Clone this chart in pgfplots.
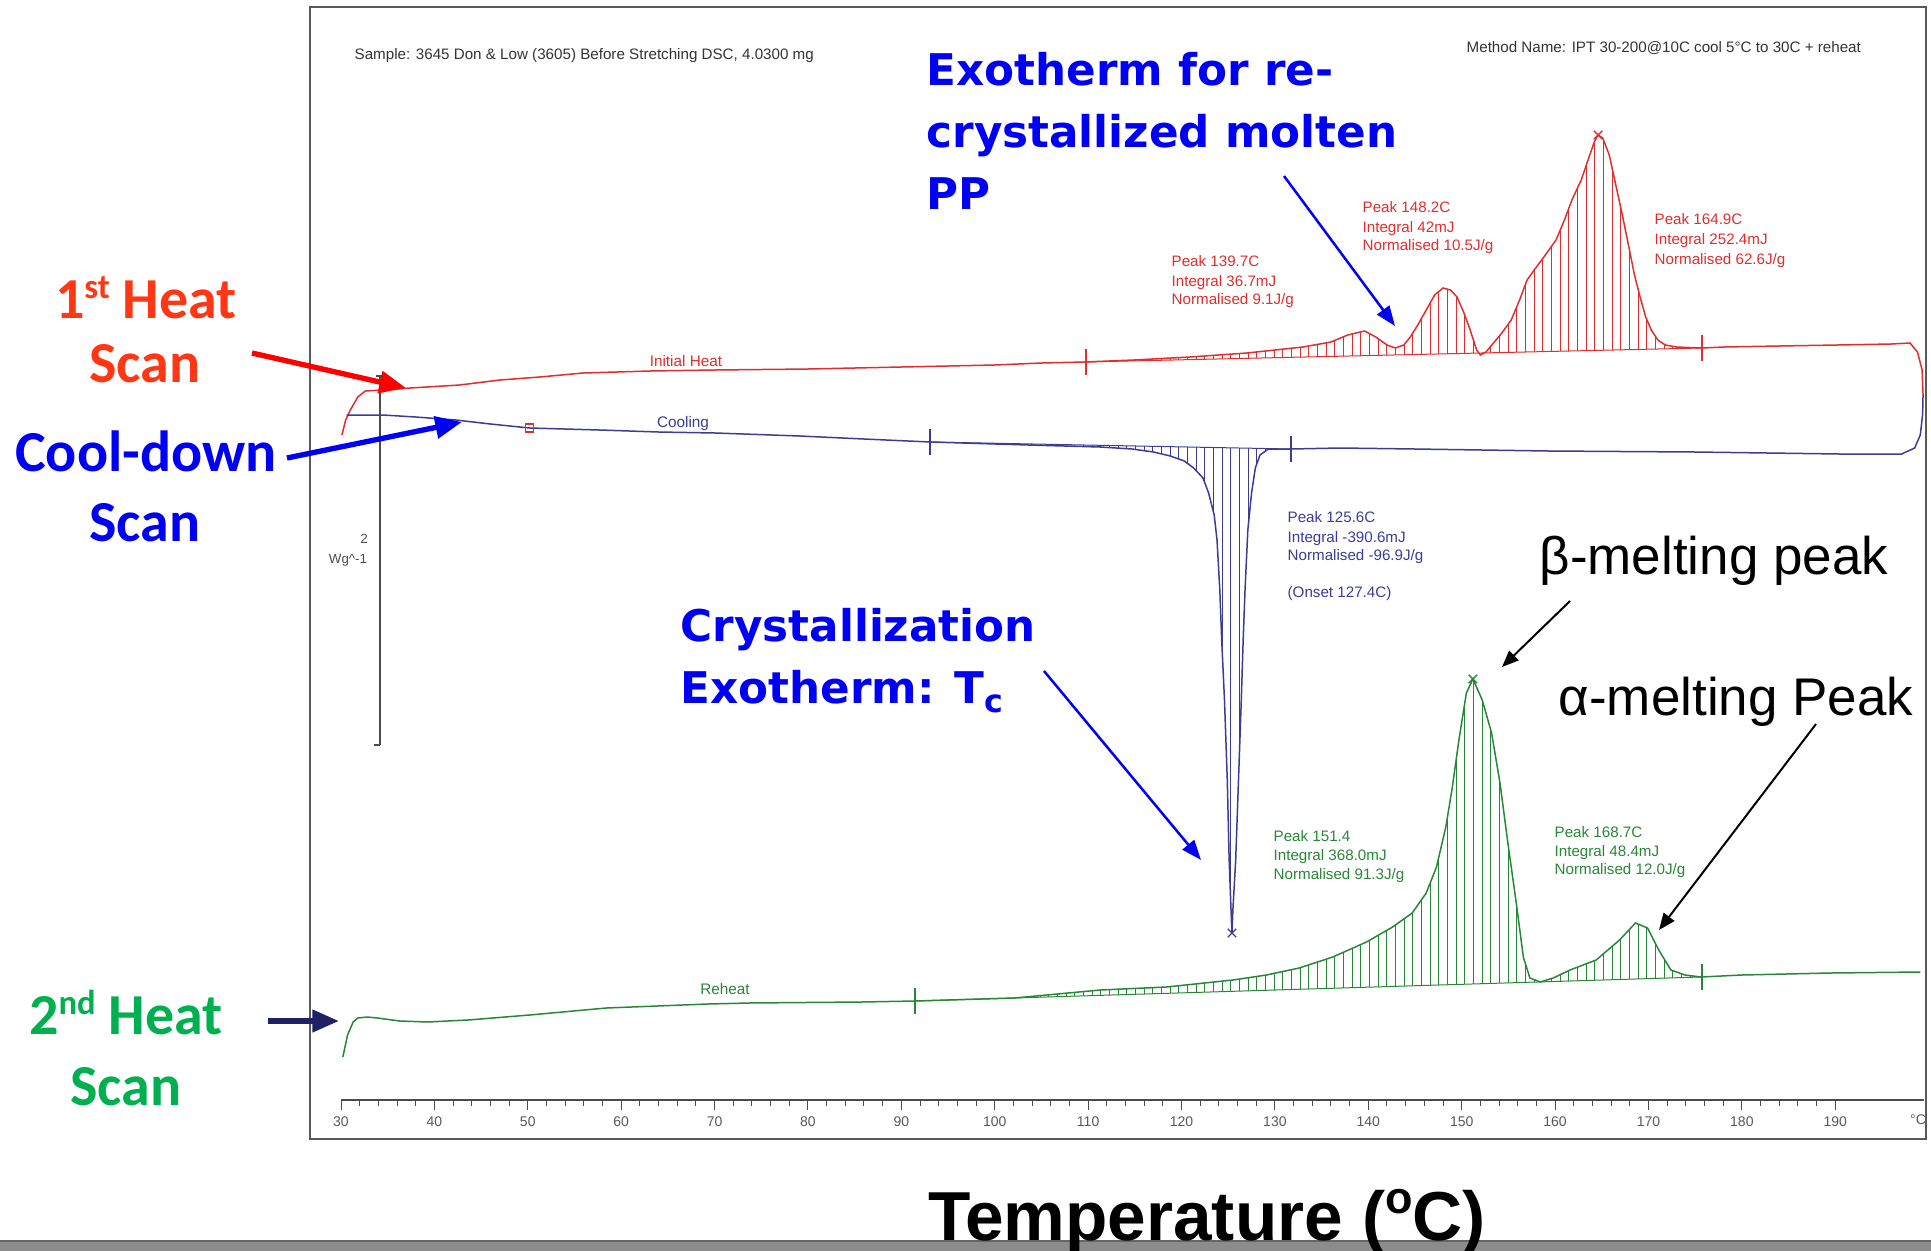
\documentclass[border=0pt]{standalone}
\usepackage{pgfplots}
\pgfplotsset{compat=1.18}
\usetikzlibrary{patterns.meta,arrows.meta}
\usepackage{fontspec}
\setmainfont{Liberation Sans}
\newfontfamily\calfont{Carlito}
\newfontfamily\vfont{DejaVu Sans}

\definecolor{dscred}{RGB}{225,45,45}
\definecolor{dscblue}{RGB}{60,60,150}
\definecolor{dscgreen}{RGB}{40,135,55}
\definecolor{annred}{RGB}{255,55,20}
\definecolor{arrred}{RGB}{255,0,0}
\definecolor{annblue}{RGB}{0,0,245}
\definecolor{anngreen}{RGB}{0,176,80}
\definecolor{annnavy}{RGB}{32,32,100}

\tikzset{
  dsc/.style={font=\fontsize{4.55}{5}\selectfont, inner sep=0, anchor=base west},
  callout/.style={font=\calfont\bfseries\fontsize{17.4}{18}\selectfont, inner sep=0, anchor=base},
  vlabel/.style={font=\vfont\bfseries\fontsize{13.1}{14}\selectfont, inner sep=0, anchor=base west, text=annblue},
  plabel/.style={font=\fontsize{15.9}{16}\selectfont, inner sep=0, anchor=base west},
  bigarrow/.style={line width=1.6pt, -{Triangle[length=8pt,width=6.5pt]}},
  thinarrow/.style={line width=0.75pt, -{Triangle[length=6pt,width=4.5pt]}},
  hatch/.style={draw=none, pattern={Lines[angle=90,distance=2.6pt,line width=0.3pt]}, pattern color=#1},
}

\begin{document}
\begin{tikzpicture}
\useasboundingbox (0,0) rectangle (579.3pt,-375.3pt);

% instrument frame and scale bar (1 unit = one pixel, y downwards)
\begin{scope}[x=0.3pt,y=-0.3pt]
  \draw[black!65, line width=0.7pt] (310,7) rectangle (1926,1139);
  \draw[black!70, line width=0.45pt] (380,376) -- (380,745);
  \draw[black!70, line width=0.45pt] (376,376) -- (384,376);
  \draw[black!70, line width=0.45pt] (374,745) -- (380,745);
  \node[font=\fontsize{4}{5}\selectfont, text=black!70, inner sep=0] at (364,539) {2};
  \node[font=\fontsize{4}{5}\selectfont, text=black!70, inner sep=0] at (348,560) {Wg\textasciicircum-1};
\end{scope}

\begin{axis}[
  at={(102.3pt,-330pt)}, anchor=south west,
  scale only axis, width=474.9pt, height=327.9pt,
  xmin=30, xmax=199.5, ymin=0, ymax=1093,
  axis x line=bottom, axis y line=left,
  x axis line style={-, draw=black!70, line width=0.6pt},
  y axis line style={draw=none}, ytick=\empty,
  xtick={30,40,...,190}, minor x tick num=4,
  tick align=outside,
  major tick length=3pt, minor tick length=1.8pt,
  every tick/.style={black!70, line width=0.3pt},
  xticklabel style={font=\fontsize{4.2}{4.5}\selectfont, text=black!65, anchor=north, yshift=1.4pt},
  /pgf/number format/assume math mode=true,
  clip=false,
]
% hatched integration areas: curve segment between the limits, closed along the baseline
\addplot[hatch=dscred] coordinates {
 (109.6,738) (114.9,740) (120.9,743) (127.0,747)
 (133.0,753) (136,758) (137.8,765) (139.6,769) (140.8,763) (142.0,755)
 (142.9,752) (143.8,755) (144.5,763) (145.3,775) (146.2,790) (147.1,805)
 (148.0,812) (148.8,810) (149.5,803) (150.2,788) (150.8,773) (151.6,750)
 (152.0,745) (152.6,748) (153.4,757) (154.3,767) (155.3,780) (156.2,800)
 (157.0,820) (158.0,833) (158.8,843) (160.1,860) (161.0,880) (161.8,900)
 (162.8,920) (163.6,942) (164.2,958) (164.6,965) (165.1,962) (165.8,945)
 (166.5,915) (167.2,885) (167.9,853) (168.5,825) (169.1,803) (169.7,783)
 (170.3,770) (171.0,760) (171.8,755) (173,753) (175.7,752)
} -- cycle;
\addplot[hatch=dscblue] coordinates {
 (93.1,658) (103.6,655)
 (111.3,653) (114.7,651) (117,648) (118.8,644) (120.3,639) (121.3,632)
 (122.3,622) (122.9,607) (123.5,585) (123.8,560) (124.1,510) (124.3,460)
 (124.6,400) (124.9,320) (125.1,240) (125.3,190) (125.4,167) (125.5,190)
 (125.8,240) (126.1,320) (126.4,400) (126.6,460) (126.8,510) (127.1,570)
 (127.5,607) (127.9,632) (128.4,645) (129.3,651) (131.7,651)
} -- cycle;
\addplot[hatch=dscgreen] coordinates {
 (91.5,99) (102.1,102) (111.3,110) (118.4,113) (125.5,120) (129.1,125)
 (132.6,132) (136.2,143) (139.8,158) (142.6,173) (144.7,187) (146.2,207)
 (147.3,233) (148.3,273) (149.0,313) (149.7,360) (150.5,407) (151.2,421)
 (152.2,400) (153.2,367) (154.1,317) (154.9,260) (155.9,193) (156.6,143)
 (157.3,122) (158.4,118) (159.8,122) (161.6,130) (164.4,140) (166.9,160)
 (168.6,177) (169.9,172) (171.1,150) (172.4,130) (173.9,125) (175.6,123)
} -- cycle;

% baselines
\addplot[dscred, line width=0.3pt] coordinates {(109.6,738) (175.7,752)};
\addplot[dscblue, line width=0.3pt] coordinates {(93.1,658) (131.7,651)};
\addplot[dscgreen, line width=0.3pt] coordinates {(91.5,99) (175.6,123)};

% initial heat
\addplot[dscred, line width=0.45pt] coordinates {
 (30.1,665) (30.5,680) (31.0,690) (31.8,703) (32.6,709) (34.4,710) (37.4,712)
 (42.7,715) (47.0,720) (51.3,723) (55.9,727) (63.1,729) (70,730) (80,731)
 (90,733) (100,735) (105,737) (109.6,738) (114.9,740) (120.9,743) (127.0,747)
 (133.0,753) (136,758) (137.8,765) (139.6,769) (140.8,763) (142.0,755)
 (142.9,752) (143.8,755) (144.5,763) (145.3,775) (146.2,790) (147.1,805)
 (148.0,812) (148.8,810) (149.5,803) (150.2,788) (150.8,773) (151.6,750)
 (152.0,745) (152.6,748) (153.4,757) (154.3,767) (155.3,780) (156.2,800)
 (157.0,820) (158.0,833) (158.8,843) (160.1,860) (161.0,880) (161.8,900)
 (162.8,920) (163.6,942) (164.2,958) (164.6,965) (165.1,962) (165.8,945)
 (166.5,915) (167.2,885) (167.9,853) (168.5,825) (169.1,803) (169.7,783)
 (170.3,770) (171.0,760) (171.8,755) (173,753) (175.7,752) (178.1,753)
 (184,754) (190.2,755) (196,756) (198.0,757) (198.8,748) (199.3,730) (199.4,705)
};

% cooling
\addplot[dscblue, line width=0.45pt] coordinates {
 (30.6,685) (32,685) (34.5,685) (38,683) (42.3,680) (46,676) (50.2,672)
 (57.7,670) (64,668) (70.1,667) (79.1,664) (86,661) (93.1,658) (103.6,655)
 (111.3,653) (114.7,651) (117,648) (118.8,644) (120.3,639) (121.3,632)
 (122.3,622) (122.9,607) (123.5,585) (123.8,560) (124.1,510) (124.3,460)
 (124.6,400) (124.9,320) (125.1,240) (125.3,190) (125.4,167) (125.5,190)
 (125.8,240) (126.1,320) (126.4,400) (126.6,460) (126.8,510) (127.1,570)
 (127.5,607) (127.9,632) (128.4,645) (129.3,651) (131.7,651) (137,652)
 (145,651) (159.3,649) (175,648) (190.5,646) (197.1,646) (198.5,652)
 (199.1,665) (199.35,685) (199.4,705)
};

% reheat
\addplot[dscgreen, line width=0.45pt] coordinates {
 (30.2,43) (30.7,65) (31.3,78) (31.8,82) (32.8,83) (33.9,82) (36.3,79)
 (39.3,78) (43.6,80) (50.2,85) (58.4,92) (69.3,96) (73.7,97) (85.7,98)
 (91.5,99) (102.1,102) (111.3,110) (118.4,113) (125.5,120) (129.1,125)
 (132.6,132) (136.2,143) (139.8,158) (142.6,173) (144.7,187) (146.2,207)
 (147.3,233) (148.3,273) (149.0,313) (149.7,360) (150.5,407) (151.2,421)
 (152.2,400) (153.2,367) (154.1,317) (154.9,260) (155.9,193) (156.6,143)
 (157.3,122) (158.4,118) (159.8,122) (161.6,130) (164.4,140) (166.9,160)
 (168.6,177) (169.9,172) (171.1,150) (172.4,130) (173.9,125) (175.6,123)
 (180,125) (189.5,127) (199.1,128)
};

% integration limits and peak marks
\addplot[only marks, mark=|, mark size=4pt, dscred, line width=0.6pt] coordinates {(109.8,738) (175.7,752)};
\addplot[only marks, mark=|, mark size=4pt, dscblue, line width=0.6pt] coordinates {(93.1,658) (131.7,651)};
\addplot[only marks, mark=|, mark size=4pt, dscgreen, line width=0.6pt] coordinates {(91.5,99) (175.7,123)};
\addplot[only marks, mark=x, mark size=1.8pt, dscred] coordinates {(164.6,965)};
\addplot[only marks, mark=x, mark size=1.8pt, dscblue] coordinates {(125.4,167)};
\addplot[only marks, mark=x, mark size=1.8pt, dscgreen] coordinates {(151.2,421)};
\addplot[only marks, mark=square, mark size=1.2pt, dscred] coordinates {(50.2,672)};
\end{axis}

\begin{scope}[x=0.3pt,y=-0.3pt]
  \node[font=\fontsize{4.2}{4.5}\selectfont, text=black!65, inner sep=0] at (1918,1120) {°C};

  % instrument texts
  \node[dsc, text=black!80] at (354,59) {Sample: 3645 Don \& Low (3605) Before Stretching DSC, 4.0300 mg};
  \node[dsc, text=black!80] at (1466,52) {Method Name: IPT 30-200@10C cool 5°C to 30C + reheat};
  \node[font=\fontsize{4.6}{5}\selectfont, text=dscred, inner sep=0] at (686,361) {Initial Heat};
  \node[font=\fontsize{4.6}{5}\selectfont, text=dscblue, inner sep=0] at (683,424) {Cooling};
  \node[font=\fontsize{4.6}{5}\selectfont, text=dscgreen, inner sep=0] at (725,989) {Reheat};

  \node[dsc, text=dscred] at (1171,266) {Peak 139.7C};
  \node[dsc, text=dscred] at (1171,286) {Integral 36.7mJ};
  \node[dsc, text=dscred] at (1171,304) {Normalised 9.1J/g};
  \node[dsc, text=dscred] at (1362,212) {Peak 148.2C};
  \node[dsc, text=dscred] at (1362,232) {Integral 42mJ};
  \node[dsc, text=dscred] at (1362,250) {Normalised 10.5J/g};
  \node[dsc, text=dscred] at (1654,224) {Peak 164.9C};
  \node[dsc, text=dscred] at (1654,244) {Integral 252.4mJ};
  \node[dsc, text=dscred] at (1654,264) {Normalised 62.6J/g};

  \node[dsc, text=dscblue] at (1287,522) {Peak 125.6C};
  \node[dsc, text=dscblue] at (1287,542) {Integral -390.6mJ};
  \node[dsc, text=dscblue] at (1287,560) {Normalised -96.9J/g};
  \node[dsc, text=dscblue] at (1287,597) {(Onset 127.4C)};

  \node[dsc, text=dscgreen] at (1273,841) {Peak 151.4};
  \node[dsc, text=dscgreen] at (1273,860) {Integral 368.0mJ};
  \node[dsc, text=dscgreen] at (1273,879) {Normalised 91.3J/g};
  \node[dsc, text=dscgreen] at (1554,837) {Peak 168.7C};
  \node[dsc, text=dscgreen] at (1554,856) {Integral 48.4mJ};
  \node[dsc, text=dscgreen] at (1554,874) {Normalised 12.0J/g};

  % scan call-outs
  \node[callout, text=annred] at (146,318) {1\raisebox{0.33em}{\fontsize{10.4}{10}\selectfont st} Heat};
  \node[callout, text=annred] at (145,382) {Scan};
  \draw[bigarrow, arrred] (252,353) -- (406,388);

  \node[callout, text=annblue] at (146,471) {Cool-down};
  \node[callout, text=annblue] at (145,541) {Scan};
  \draw[bigarrow, annblue] (287,458) -- (462,422);

  \node[callout, text=anngreen] at (126,1034) {2\raisebox{0.33em}{\fontsize{10.4}{10}\selectfont nd} Heat};
  \node[callout, text=anngreen] at (126,1105) {Scan};
  \draw[bigarrow, annnavy] (268,1021) -- (339,1021);

  \node[vlabel] at (926,85) {Exotherm for re-};
  \node[vlabel] at (926,147) {crystallized molten};
  \node[vlabel] at (926,209) {PP};
  \draw[thinarrow, annblue] (1284,176) -- (1395,326);

  \node[vlabel] at (680,641) {Crystallization};
  \node[vlabel] at (680,703) {Exotherm: T\raisebox{-0.22em}{\fontsize{9.5}{10}\selectfont c}};
  \draw[thinarrow, annblue] (1044,671) -- (1201,860);

  \node[plabel] at (1539,574) {β-melting peak};
  \draw[line width=0.6pt, -{Triangle[length=5pt,width=4pt]}] (1570,601) -- (1502,667);
  \node[plabel] at (1558,715) {α-melting Peak};
  \draw[line width=0.6pt, -{Triangle[length=5pt,width=4pt]}] (1816,724) -- (1659,930);

  % bottom band and axis title
  \fill[black!45] (0,1241) rectangle (1931,1251);
  \draw[black!60, line width=0.4pt] (0,1241) -- (1931,1241);
  \node[anchor=base, inner sep=0, font=\bfseries\fontsize{20.8}{21}\selectfont] at (1207,1240)
    {Temperature (\raisebox{0.38em}{\fontsize{13.5}{13}\selectfont o}C)};
\end{scope}
\end{tikzpicture}
\end{document}
